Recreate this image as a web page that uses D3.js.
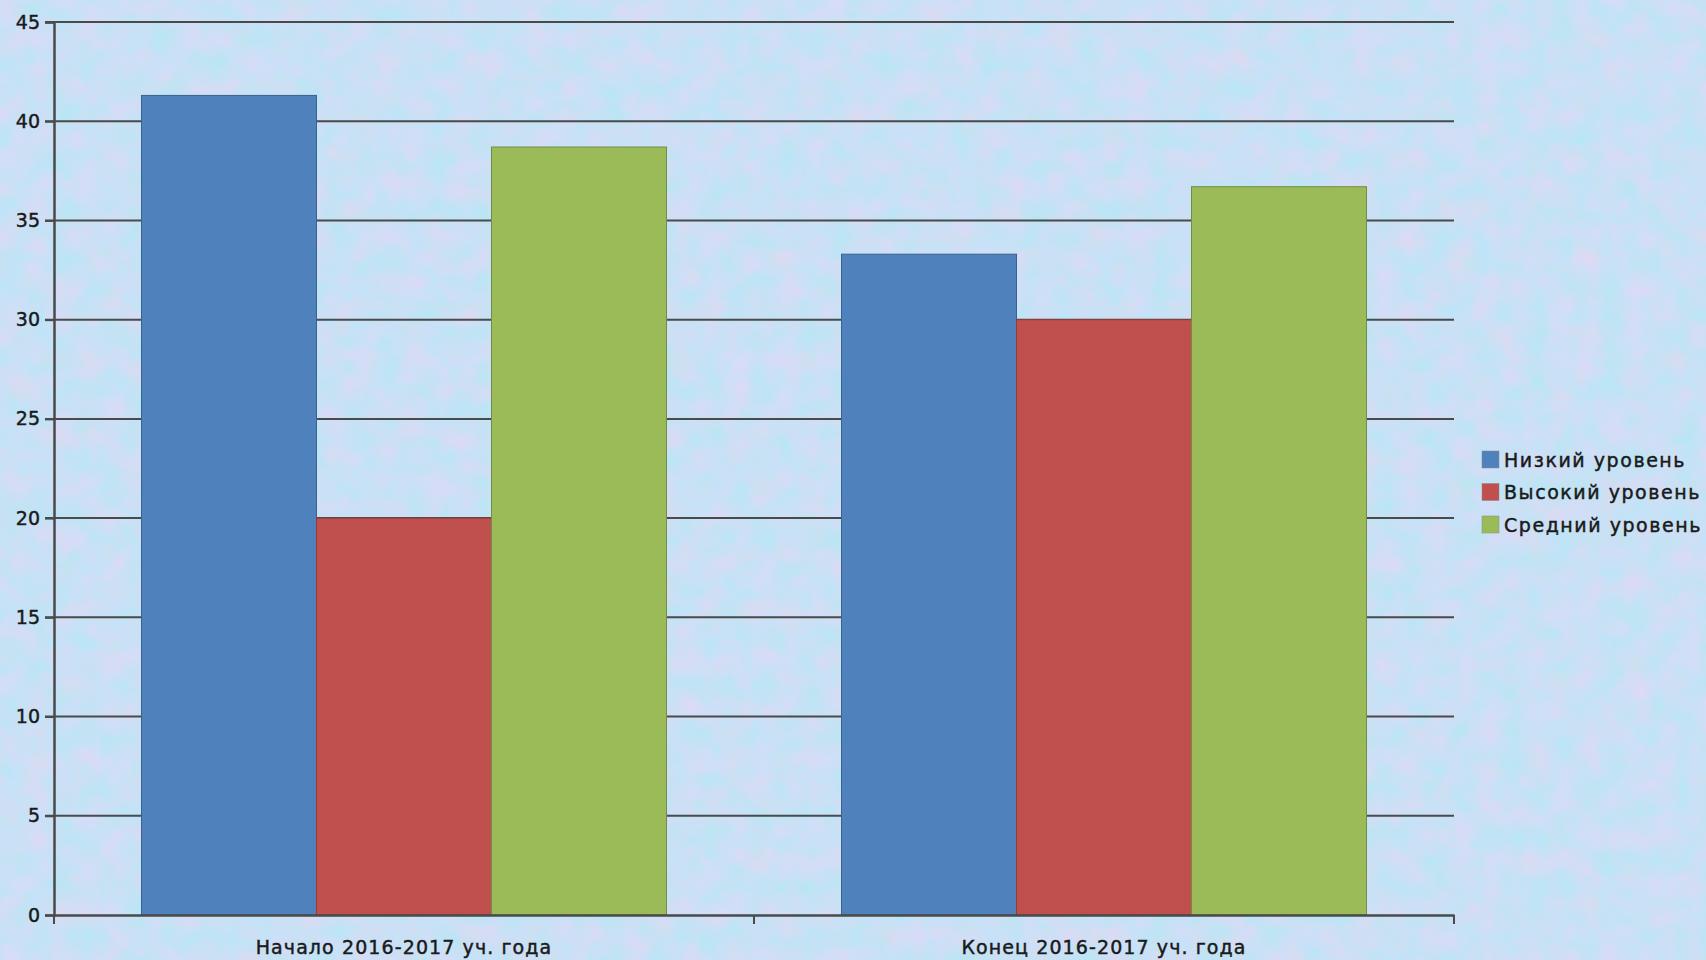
<!DOCTYPE html>
<html>
<head>
<meta charset="utf-8">
<script src="https://cdn.jsdelivr.net/npm/d3@7"></script>
<style>
  body { margin: 0; overflow: hidden; }
  svg text { font-family: "DejaVu Sans", sans-serif; fill: #1a1a1a; stroke: #1a1a1a; stroke-width: 0.45px; }
</style>
</head>
<body>
<div id="viz"></div>
<script>
// chart data
var categories = ["Начало 2016-2017 уч. года", "Конец 2016-2017 уч. года"];
var seriesNames = ["Низкий уровень", "Высокий уровень", "Средний уровень"];
var lowValues = [41.3, 33.3];
var highValues = [20, 30];
var midValues = [38.7, 36.7];
var yTicks = [0, 5, 10, 15, 20, 25, 30, 35, 40, 45];
var colors = ["#4f81bd", "#c0504d", "#9bbb59"];

var W = 1706, H = 960;
var margin = { top: 22, left: 54, right: 252, bottom: 45 },
  width = W - margin.left - margin.right,
  height = H - margin.top - margin.bottom;

var svg = d3.select("#viz").append("svg")
  .attr("width", W)
  .attr("height", H);

// textured background (light blue with faint lavender patches)
var defs = svg.append("defs");
var f = defs.append("filter").attr("id", "tex")
  .attr("color-interpolation-filters", "sRGB")
  .attr("x", 0).attr("y", 0).attr("width", "100%").attr("height", "100%");
f.append("feTurbulence").attr("type", "fractalNoise")
  .attr("baseFrequency", "0.04").attr("numOctaves", 4).attr("seed", 11)
  .attr("result", "noise");
f.append("feColorMatrix").attr("in", "noise").attr("type", "matrix")
  .attr("values", "0.18 0 0 0 0.70  -0.06 0 0 0 0.91  0 0 0.04 0 0.94  0 0 0 0 1");

svg.append("rect").attr("width", W).attr("height", H).attr("fill", "#c8e0f5");
svg.append("rect").attr("width", W).attr("height", H).attr("filter", "url(#tex)");

var g = svg.append("g")
  .attr("transform", "translate(" + margin.left + "," + margin.top + ")");

var x0 = d3.scaleBand().domain(categories).range([0, width]).paddingInner(0).paddingOuter(0);
var x1 = d3.scaleBand().domain(seriesNames).range([0, x0.bandwidth()]).paddingInner(0).paddingOuter(0.5);
var y = d3.scaleLinear().domain([0, 45]).range([height, 0]);

// gridlines
g.append("g")
  .selectAll("line")
  .data(yTicks.filter(function (d) { return d > 0; }))
  .enter().append("line")
  .attr("x1", -9).attr("x2", width)
  .attr("y1", function (d) { return y(d); })
  .attr("y2", function (d) { return y(d); })
  .attr("stroke", "#4a4a4a").attr("stroke-width", 2);

var rows = categories.map(function (c, i) {
  return { cat: c, vals: [lowValues[i], highValues[i], midValues[i]] };
});

// bars
g.selectAll("g.grp")
  .data(rows)
  .enter().append("g")
  .attr("class", "grp")
  .attr("transform", function (d) { return "translate(" + x0(d.cat) + ",0)"; })
  .selectAll("rect")
  .data(function (d) { return d.vals.map(function (v, k) { return { name: seriesNames[k], v: v, k: k }; }); })
  .enter().append("rect")
  .attr("x", function (d) { return x1(d.name); })
  .attr("width", x1.bandwidth())
  .attr("y", function (d) { return y(d.v); })
  .attr("height", function (d) { return height - y(d.v); })
  .attr("fill", function (d) { return colors[d.k]; })
  .attr("stroke", function (d) { return d3.color(colors[d.k]).darker(0.8); })
  .attr("stroke-width", 1);

// y axis
var yAxis = g.append("g")
  .call(d3.axisLeft(y).tickValues(yTicks).tickSize(9).tickPadding(5).tickFormat(d3.format("d")));
yAxis.select(".domain").attr("stroke", "#4a4a4a").attr("stroke-width", 2.5);
yAxis.selectAll(".tick line").attr("stroke", "#4a4a4a").attr("stroke-width", 2);
yAxis.selectAll("text").style("font-size", "19px");

// x axis
var xAxis = g.append("g")
  .attr("transform", "translate(0," + height + ")")
  .call(d3.axisBottom(x0).tickSize(0).tickPadding(26));
xAxis.select(".domain").attr("stroke", "#4a4a4a").attr("stroke-width", 2.5);
xAxis.selectAll("text").style("font-size", "19px").style("letter-spacing", "1.1px");
g.append("g")
  .attr("transform", "translate(0," + height + ")")
  .selectAll("line")
  .data([0, width / 2, width])
  .enter().append("line")
  .attr("x1", function (d) { return d; }).attr("x2", function (d) { return d; })
  .attr("y1", 0).attr("y2", 9)
  .attr("stroke", "#4a4a4a").attr("stroke-width", 2);

// legend
var legend = svg.append("g").attr("transform", "translate(1482,451)");
var li = legend.selectAll("g")
  .data(seriesNames)
  .enter().append("g")
  .attr("transform", function (d, i) { return "translate(0," + (i * 32.5) + ")"; });
li.append("rect").attr("width", 17).attr("height", 17)
  .attr("fill", function (d, i) { return colors[i]; })
  .attr("stroke", "#888").attr("stroke-width", 0.5);
li.append("text").attr("x", 22).attr("y", 9).attr("dy", "0.35em")
  .style("font-size", "19px").style("letter-spacing", "1.55px")
  .text(function (d) { return d; });
</script>
</body>
</html>
